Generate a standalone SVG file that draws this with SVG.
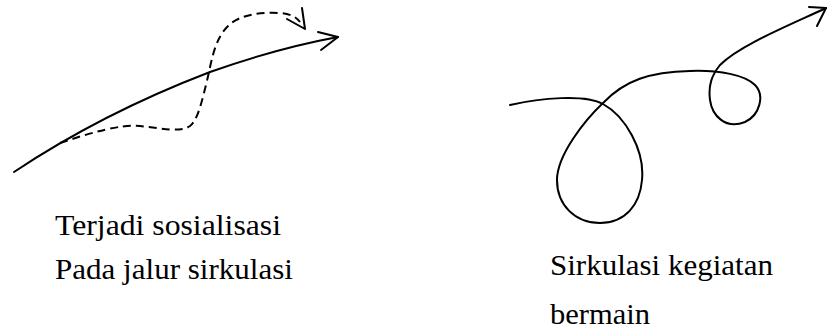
<svg xmlns="http://www.w3.org/2000/svg" width="827" height="333" viewBox="0 0 827 333">
<style>
.ln{fill:none;stroke:#000;stroke-width:2;stroke-linecap:round;stroke-linejoin:round}
.dash{stroke-dasharray:8 5;stroke-linecap:butt}
.t{font-family:"Liberation Serif","Times New Roman",serif;font-size:29px;fill:#000}
</style>
<rect width="827" height="333" fill="#fff"/>
<g id="left-diagram">
<path class="ln" d="M14,172 C80,128 150,95 210,72 C255,56 300,44 338,37"/>
<path class="ln" d="M318,32 L338,37 L321,50"/>
<path class="ln dash" d="M60,143 C90,133 120,124 140,126 C160,128 180,133 190,126 C198,120 202,100 206,85 C212,60 214,40 228,26 C240,14 262,12 280,13 C292,14 297,18 300,22"/>
<path class="ln" d="M287,19 L305,29 L302,8"/>
</g>
<g id="right-diagram">
<path class="ln" d="M510,105 C540,98 585,94 603,104 C625,116 645,150 642,180 C640,205 625,223 600,223 C575,223 557,205 557,180 C557,155 585,120 603,103 C625,80 650,72 690,71 C720,70 745,75 755,85 C765,95 760,115 745,122 C725,130 712,115 710,100 C708,85 712,75 720,65 C740,45 790,25 826,8"/>
<path class="ln" d="M809,7 L826,8 L817,26"/>
</g>
<g id="labels">
<text class="t" x="55" y="235" textLength="226" lengthAdjust="spacingAndGlyphs">Terjadi sosialisasi</text>
<text class="t" x="55" y="279" textLength="238" lengthAdjust="spacingAndGlyphs">Pada jalur sirkulasi</text>
<text class="t" x="550" y="275" textLength="223" lengthAdjust="spacingAndGlyphs">Sirkulasi kegiatan</text>
<text class="t" x="550" y="324" textLength="100" lengthAdjust="spacingAndGlyphs">bermain</text>
</g>
</svg>
